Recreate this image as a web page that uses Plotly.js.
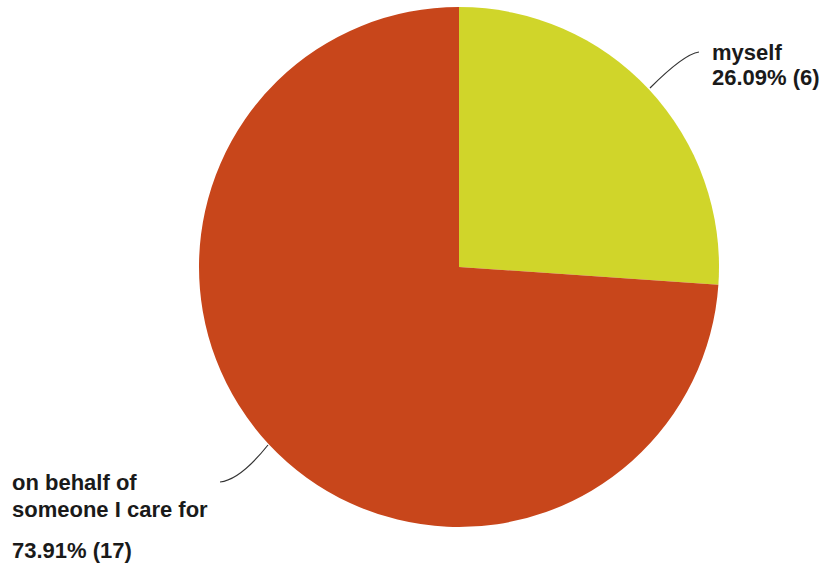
<!DOCTYPE html>
<html>
<head>
<meta charset="utf-8">
<script src="https://cdn.plot.ly/plotly-3.0.1.min.js"></script>
<style>html,body{margin:0;padding:0;background:#fff;}#chart{width:821px;height:570px;}</style>
</head>
<body>
<div id="chart"></div>
<script>
const labels = ["myself", "on behalf of|someone I care for"];
const values = [6, 17];
const colors = ["#d0d52a", "#c8461b"];

const total = values.reduce((a, b) => a + b, 0);
const pct = values.map(v => (100 * v / total).toFixed(2) + "%");
const pctText = values.map((v, i) => pct[i] + " (" + v + ")");

const W = 821, H = 570;
const px = x => x / W;
const py = y => 1 - y / H;

const font = {family: "Liberation Sans, Arial, sans-serif", size: 22, color: "#1a1a1a"};

// label line positions (pixel centers) for each slice: name lines, then percent line
const labelX = [712, 12];
const nameY = [[52], [482, 509]];
const pctY = [78, 550];

const annotations = [];
labels.forEach((l, i) => {
  l.split("|").forEach((line, j) => {
    annotations.push({xref: "paper", yref: "paper", x: px(labelX[i] - 2), y: py(nameY[i][j]),
      xanchor: "left", yanchor: "middle", align: "left", showarrow: false,
      text: "<b>" + line + "</b>", font: font});
  });
  annotations.push({xref: "paper", yref: "paper", x: px(labelX[i] - 2), y: py(pctY[i]),
    xanchor: "left", yanchor: "middle", align: "left", showarrow: false,
    text: "<b>" + pctText[i] + "</b>", font: font});
});

const trace = {
  type: "pie",
  labels: labels.map(l => l.replace("|", " ")),
  values: values,
  sort: false,
  direction: "clockwise",
  rotation: 0,
  textinfo: "none",
  hoverinfo: "label+percent",
  marker: {colors: colors, line: {width: 0}},
  domain: {x: [px(199), px(719)], y: [py(527), py(7)]},
  showlegend: false
};

const layout = {
  width: W, height: H,
  margin: {l: 0, r: 0, t: 0, b: 0},
  paper_bgcolor: "#ffffff",
  showlegend: false,
  annotations: annotations,
  shapes: [
    {type: "path", xref: "paper", yref: "paper",
     path: "M " + px(650) + "," + py(88) + " Q " + px(684) + "," + py(54) + " " + px(699) + "," + py(52),
     line: {color: "#333", width: 1.2}},
    {type: "path", xref: "paper", yref: "paper",
     path: "M " + px(268) + "," + py(445) + " Q " + px(240) + "," + py(480) + " " + px(220) + "," + py(482),
     line: {color: "#333", width: 1.2}}
  ]
};

Plotly.newPlot("chart", [trace], layout, {displayModeBar: false, staticPlot: true});
</script>
</body>
</html>
